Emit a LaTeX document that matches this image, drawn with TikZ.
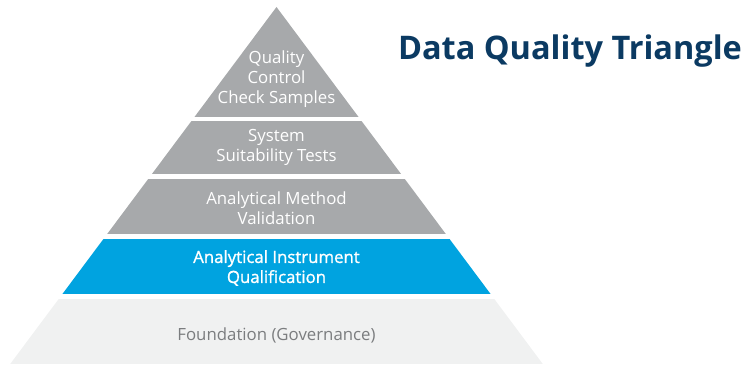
\documentclass[tikz,border=0pt]{standalone}
\usepackage{fontspec}
\setmainfont{Open Sans}
\newfontfamily\mediumfont[FakeBold=1.2]{Open Sans}
\definecolor{tiergray}{HTML}{A7A9AB}
\definecolor{tierblue}{HTML}{00A3E0}
\definecolor{basegray}{HTML}{F0F1F1}
\definecolor{basetext}{HTML}{7B7D7F}
\definecolor{titleblue}{HTML}{0B3A62}
\begin{document}
\begin{tikzpicture}[x=1pt,y=-1pt,
  tiertext/.style={align=center,text=white,font=\fontsize{16.8}{20}\selectfont,inner sep=0pt},
  basetxt/.style={align=center,text=basetext,font=\fontsize{16.8}{20}\selectfont,inner sep=0pt}]
\useasboundingbox (0,0) rectangle (749,366);
% pyramid outline, cut into horizontal tiers
\begin{scope}
  \clip (276.5,7) -- (542.8,364) -- (10.2,364) -- cycle;
  \fill[tiergray]  (0,0)   rectangle (749,117);
  \fill[tiergray]  (0,121) rectangle (749,174);
  \fill[tiergray]  (0,179) rectangle (749,234);
  \fill[tierblue]  (0,239) rectangle (749,294);
  \fill[basegray]  (0,299) rectangle (749,364);
\end{scope}
% tier labels
\node[tiertext] (qc)  at (276.5,79)  {Quality\\Control\\Check Samples};
\node[tiertext] (sst) at (276.5,147) {System\\Suitability Tests};
\node[tiertext] (amv) at (276.5,208) {Analytical Method\\Validation};
\node[tiertext,font=\mediumfont\fontsize{16.8}{20}\selectfont] (aiq) at (276.5,268) {Analytical Instrument\\Qualification};
\node[basetxt] (fnd) at (276.5,335) {Foundation (Governance)};
% heading
\node[text=titleblue,font=\fontsize{32.5}{38}\selectfont\bfseries,inner sep=0pt] (title) at (570,51) {Data Quality Triangle};
\end{tikzpicture}
\end{document}
